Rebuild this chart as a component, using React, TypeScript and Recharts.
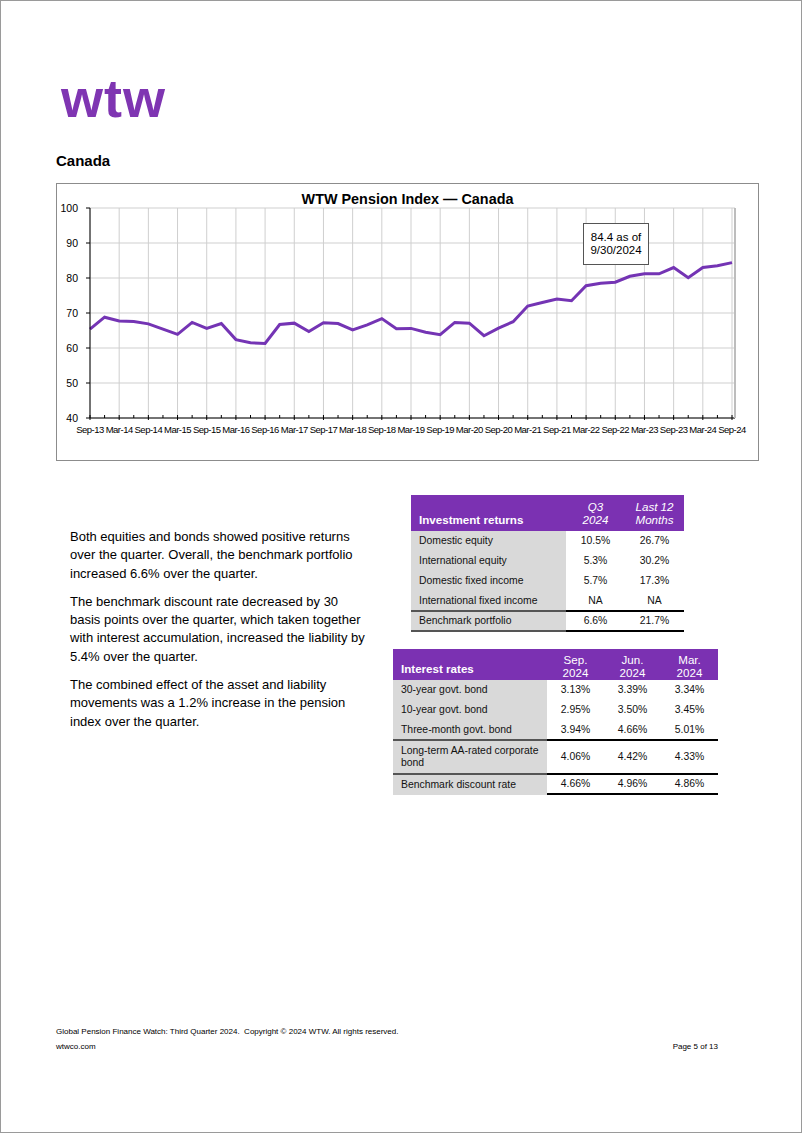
import React from 'react';
import { LineChart, Line, XAxis, YAxis, CartesianGrid, ReferenceLine } from 'recharts';

// Quarterly index values, Sep-13 to Sep-24
const quarters = [
  'Sep-13', 'Dec-13', 'Mar-14', 'Jun-14', 'Sep-14', 'Dec-14', 'Mar-15', 'Jun-15', 'Sep-15',
  'Dec-15', 'Mar-16', 'Jun-16', 'Sep-16', 'Dec-16', 'Mar-17', 'Jun-17', 'Sep-17', 'Dec-17',
  'Mar-18', 'Jun-18', 'Sep-18', 'Dec-18', 'Mar-19', 'Jun-19', 'Sep-19', 'Dec-19', 'Mar-20',
  'Jun-20', 'Sep-20', 'Dec-20', 'Mar-21', 'Jun-21', 'Sep-21', 'Dec-21', 'Mar-22', 'Jun-22',
  'Sep-22', 'Dec-22', 'Mar-23', 'Jun-23', 'Sep-23', 'Dec-23', 'Mar-24', 'Jun-24', 'Sep-24',
];

const indexValues = [
  65.4, 68.8, 67.7, 67.6, 66.9, 65.4, 63.9, 67.3, 65.6,
  67.0, 62.4, 61.5, 61.3, 66.7, 67.1, 64.7, 67.2, 67.0,
  65.2, 66.6, 68.4, 65.5, 65.6, 64.5, 63.8, 67.3, 67.1,
  63.5, 65.7, 67.5, 72.0, 73.0, 74.0, 73.5, 77.8, 78.5,
  78.8, 80.5, 81.2, 81.2, 83.0, 80.1, 83.0, 83.5, 84.4,
];

const axisLabels = [
  'Sep-13', 'Mar-14', 'Sep-14', 'Mar-15', 'Sep-15', 'Mar-16', 'Sep-16', 'Mar-17',
  'Sep-17', 'Mar-18', 'Sep-18', 'Mar-19', 'Sep-19', 'Mar-20', 'Sep-20', 'Mar-21',
  'Sep-21', 'Mar-22', 'Sep-22', 'Mar-23', 'Sep-23', 'Mar-24', 'Sep-24',
];

const yTicks = [40, 50, 60, 70, 80, 90, 100];

// tables
const returnsHeader = ['Investment returns', 'Q3\n2024', 'Last 12\nMonths'];
const returnsRows = [
  ['Domestic equity', '10.5%', '26.7%'],
  ['International equity', '5.3%', '30.2%'],
  ['Domestic fixed income', '5.7%', '17.3%'],
  ['International fixed income', 'NA', 'NA'],
];
const returnsTotal = ['Benchmark portfolio', '6.6%', '21.7%'];

const ratesHeader = ['Interest rates', 'Sep.\n2024', 'Jun.\n2024', 'Mar.\n2024'];
const ratesRows = [
  ['30-year govt. bond', '3.13%', '3.39%', '3.34%'],
  ['10-year govt. bond', '2.95%', '3.50%', '3.45%'],
  ['Three-month govt. bond', '3.94%', '4.66%', '5.01%'],
];
const ratesCorporate = ['Long-term AA-rated corporate\nbond', '4.06%', '4.42%', '4.33%'];
const ratesDiscount = ['Benchmark discount rate', '4.66%', '4.96%', '4.86%'];

const paragraphs = [
  ['Both equities and bonds showed positive returns', 'over the quarter. Overall, the benchmark portfolio', 'increased 6.6% over the quarter.'],
  ['The benchmark discount rate decreased by 30', 'basis points over the quarter, which taken together', 'with interest accumulation, increased the liability by', '5.4% over the quarter.'],
  ['The combined effect of the asset and liability', 'movements was a 1.2% increase in the pension', 'index over the quarter.'],
];

const chartData = quarters.map((q, i) => ({ q, index: indexValues[i] }));

const FONT = '"Liberation Sans", Arial, sans-serif';
const PURPLE = '#7b31b2';
const GRAY = '#d9d9d9';

const QuarterTick = (props: any) => {
  const { x, y, payload } = props;
  const show = axisLabels.includes(payload.value);
  return (
    <g>
      <line x1={x} x2={x} y1={y - 3} y2={y + (show ? 2 : 0)} stroke="#000" strokeWidth={1} />
      {show && (
        <text
          x={x}
          y={y + 8}
          dy="0.71em"
          textAnchor="middle"
          fontSize={9.5}
          letterSpacing={-0.5}
          fill="#000"
          fontFamily={FONT}
        >
          {payload.value}
        </text>
      )}
    </g>
  );
};

const lines = (s: string) => s.split('\n').map((t, i) => <div key={i}>{t}</div>);

function TableRow({ cells, widths, height, bg, topBorder, bottomBorder, italic, header, padBottomLabel, padBottomVal, lineH }: any) {
  return (
    <div style={{ display: 'flex', height }}>
      {cells.map((c: string, i: number) => {
        const isLabel = i === 0;
        return (
          <div
            key={i}
            style={{
              boxSizing: 'border-box',
              width: widths[i],
              height: '100%',
              display: 'flex',
              flexDirection: 'column',
              justifyContent: header ? 'flex-end' : 'center',
              alignItems: isLabel ? 'flex-start' : 'center',
              paddingLeft: isLabel ? 8 : 0,
              paddingBottom: header ? (isLabel ? padBottomLabel : padBottomVal) : 0,
              background: header ? PURPLE : isLabel ? bg : '#fff',
              color: header ? '#fff' : '#111',
              fontWeight: header && isLabel ? 'bold' : 'normal',
              fontStyle: header && !isLabel && italic ? 'italic' : 'normal',
              fontSize: header ? 11.6 : 10.4,
              lineHeight: `${lineH || 12}px`,
              textAlign: isLabel ? 'left' : 'center',
              borderTop: topBorder ? `2px solid ${isLabel ? '#555' : '#000'}` : undefined,
              borderBottom: bottomBorder && (bottomBorder === 'all' || !isLabel) ? `2px solid ${isLabel ? '#555' : '#000'}` : undefined,
            }}
          >
            {lines(c)}
          </div>
        );
      })}
    </div>
  );
}

export default function App() {
  const w1 = [155, 59, 59];
  const w2 = [154, 57, 57, 57];
  return (
    <div
      style={{
        position: 'absolute',
        left: 0,
        top: 0,
        width: 802,
        height: 1133,
        boxSizing: 'border-box',
        border: '1px solid #9a9a9a',
        background: '#fff',
        fontFamily: FONT,
        color: '#000',
      }}
    >
      {/* logo */}
      <div
        style={{
          position: 'absolute', left: 60, top: 67, fontSize: 54, fontWeight: 900,
          color: '#7f35b2', letterSpacing: 1, lineHeight: '60px',
        }}
      >
        wtw
      </div>

      <div style={{ position: 'absolute', left: 55, top: 151, fontSize: 15, fontWeight: 'bold', lineHeight: '18px' }}>
        Canada
      </div>

      {/* chart frame */}
      <div
        style={{
          position: 'absolute', left: 55, top: 182, width: 703, height: 278,
          boxSizing: 'border-box', border: '1px solid #8c8c8c',
        }}
      >
        <div
          style={{
            position: 'absolute', left: 0, width: 701, top: 6, textAlign: 'center',
            fontSize: 14.4, fontWeight: 'bold', lineHeight: '18px',
          }}
        >
          WTW Pension Index — Canada
        </div>
        <LineChart width={701} height={276} data={chartData} margin={{ top: 24, right: 22, left: 0, bottom: 12 }}>
          <CartesianGrid vertical={false} stroke="#cfcfcf" />
          {axisLabels.map((l) => (
            <ReferenceLine key={l} x={l} stroke="#cfcfcf" />
          ))}
          <XAxis
            dataKey="q"
            interval={0}
            tickLine={false}
            tickSize={0}
            tickMargin={0}
            height={30}
            padding={{ left: 0, right: 3 }}
            axisLine={{ stroke: '#000' }}
            tick={(p: any) => <QuarterTick {...p} />}
          />
          <YAxis
            type="number"
            domain={[40, 100]}
            ticks={yTicks}
            width={33}
            tickSize={4}
            tickMargin={8}
            axisLine={{ stroke: '#000' }}
            tickLine={{ stroke: '#000' }}
            tick={{ fontSize: 10.5, fill: '#000', fontFamily: FONT }}
          />
          <YAxis
            yAxisId="right"
            orientation="right"
            type="number"
            domain={[40, 100]}
            width={1}
            tick={false}
            tickLine={false}
            axisLine={{ stroke: '#bdbdbd', strokeWidth: 2 }}
          />
          <Line
            type="linear"
            dataKey="index"
            stroke="#7434b4"
            strokeWidth={3}
            dot={false}
            activeDot={false}
            isAnimationActive={false}
          />
        </LineChart>
      </div>

      {/* annotation */}
      <div
        style={{
          position: 'absolute', left: 582, top: 222, width: 66, height: 42, boxSizing: 'border-box',
          border: '1px solid #555', background: '#fff', fontSize: 11.5, lineHeight: '12.7px',
          textAlign: 'center', paddingTop: 7,
        }}
      >
        84.4 as of
        <br />
        9/30/2024
      </div>

      {/* text */}
      <div style={{ position: 'absolute', left: 69, top: 527, fontSize: 13, lineHeight: '18.3px', whiteSpace: 'nowrap' }}>
        {paragraphs.map((p, i) => (
          <div key={i} style={{ marginBottom: 10 }}>
            {p.map((l, j) => (
              <div key={j}>{l}</div>
            ))}
          </div>
        ))}
      </div>

      {/* investment returns table */}
      <div style={{ position: 'absolute', left: 410, top: 494 }}>
        <TableRow cells={returnsHeader} widths={w1} height={36} header italic padBottomLabel={5} padBottomVal={5} lineH={13} />
        {returnsRows.map((r, i) => (
          <TableRow key={i} cells={r} widths={w1} height={i === 3 ? 19 : 20} bg={GRAY} />
        ))}
        <TableRow cells={returnsTotal} widths={w1} height={22} bg={GRAY} topBorder bottomBorder="all" />
      </div>

      {/* interest rates table */}
      <div style={{ position: 'absolute', left: 392, top: 648 }}>
        <TableRow cells={ratesHeader} widths={w2} height={31} header padBottomLabel={5} padBottomVal={1.5} lineH={13} />
        {ratesRows.map((r, i) => (
          <TableRow key={i} cells={r} widths={w2} height={i === 2 ? 19 : 20} bg={GRAY} />
        ))}
        <TableRow cells={ratesCorporate} widths={w2} height={34} bg={GRAY} topBorder />
        <TableRow cells={ratesDiscount} widths={w2} height={22} bg={GRAY} topBorder bottomBorder="values" />
      </div>

      {/* footer */}
      <div style={{ position: 'absolute', left: 55, top: 1026, fontSize: 8, lineHeight: '10px', whiteSpace: 'pre' }}>
        Global Pension Finance Watch: Third Quarter 2024.  Copyright © 2024 WTW. All rights reserved.
      </div>
      <div style={{ position: 'absolute', left: 55, top: 1041, fontSize: 8, lineHeight: '10px' }}>wtwco.com</div>
      <div style={{ position: 'absolute', right: 802 - 719, top: 1041, fontSize: 8, lineHeight: '10px' }}>Page 5 of 13</div>
    </div>
  );
}
